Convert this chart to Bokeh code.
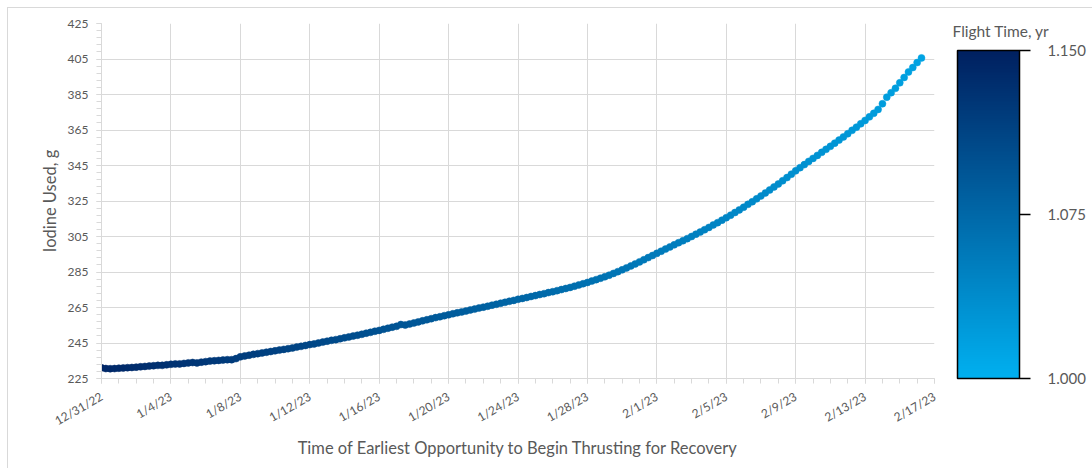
import pandas as pd
from bokeh.plotting import figure
from bokeh.models import (ColumnDataSource, LinearColorMapper, ColorBar, FixedTicker,
                          NumeralTickFormatter, Range1d)
from bokeh.embed import file_html
from bokeh.resources import INLINE

# Iodine used (g) per thrust-start opportunity, sampled every 6 hours from 12/31/22
iodine = [
    231.0, 230.6, 230.5, 230.6,  230.8, 230.9, 231.1, 231.2,
    231.4, 231.6, 231.8, 232.0,  232.2, 232.4, 232.4, 232.7,
    233.0, 233.2, 233.2, 233.5,  233.8, 234.0, 233.8, 234.2,
    234.5, 234.8, 235.0, 235.2,  235.4, 235.6, 235.6, 236.2,
    237.2, 237.7, 238.1, 238.6,  239.0, 239.4, 239.8, 240.2,
    240.6, 241.0, 241.4, 241.8,  242.2, 242.7, 243.1, 243.6,
    244.1, 244.5, 245.0, 245.5,  246.0, 246.5, 246.9, 247.4,
    247.9, 248.4, 248.9, 249.4,  249.9, 250.5, 251.0, 251.6,
    252.1, 252.7, 253.3, 253.9,  254.4, 255.4, 255.1, 255.7,
    256.3, 256.9, 257.5, 258.1,  258.7, 259.3, 259.8, 260.4,
    260.9, 261.5, 262.0, 262.5,  263.0, 263.6, 264.1, 264.7,
    265.2, 265.7, 266.3, 266.8,  267.4, 267.9, 268.5, 269.0,
    269.6, 270.1, 270.6, 271.2,  271.7, 272.3, 272.8, 273.4,
    273.9, 274.5, 275.1, 275.7,  276.3, 277.0, 277.7, 278.4,
    279.1, 279.9, 280.7, 281.5,  282.3, 283.2, 284.2, 285.2,
    286.2, 287.3, 288.4, 289.5,  290.7, 291.9, 293.1, 294.3,
    295.5, 296.7, 297.9, 299.1,  300.3, 301.5, 302.6, 303.8,
    305.0, 306.3, 307.5, 308.8,  310.1, 311.5, 312.8, 314.2,
    315.6, 317.0, 318.5, 320.0,  321.5, 323.1, 324.6, 326.2,
    327.8, 329.5, 331.2, 332.9,  334.6, 336.4, 338.2, 340.1,
    342.0, 343.8, 345.5, 347.3,  349.0, 350.7, 352.4, 354.1,
    355.8, 357.6, 359.3, 361.1,  362.9, 364.8, 366.6, 368.5,
    370.4, 372.4, 374.4, 376.6,  379.8, 383.5, 386.0, 388.5,
    391.6, 394.6, 397.7, 400.2,  403.0, 405.6,
]

# Flight time (yr) for each opportunity
flight_time = [
    1.142, 1.141, 1.141, 1.140,  1.139, 1.139, 1.138, 1.137,
    1.137, 1.136, 1.135, 1.135,  1.134, 1.133, 1.133, 1.132,
    1.131, 1.131, 1.130, 1.129,  1.129, 1.128, 1.127, 1.127,
    1.126, 1.125, 1.124, 1.124,  1.123, 1.122, 1.122, 1.121,
    1.120, 1.120, 1.119, 1.118,  1.118, 1.117, 1.116, 1.116,
    1.115, 1.114, 1.114, 1.113,  1.112, 1.112, 1.111, 1.110,
    1.110, 1.109, 1.108, 1.108,  1.107, 1.106, 1.106, 1.105,
    1.104, 1.103, 1.103, 1.102,  1.102, 1.101, 1.100, 1.100,
    1.099, 1.098, 1.097, 1.097,  1.096, 1.095, 1.095, 1.094,
    1.093, 1.093, 1.092, 1.091,  1.091, 1.090, 1.089, 1.089,
    1.088, 1.087, 1.087, 1.086,  1.085, 1.085, 1.084, 1.083,
    1.083, 1.082, 1.081, 1.081,  1.080, 1.079, 1.079, 1.078,
    1.077, 1.077, 1.076, 1.075,  1.075, 1.074, 1.073, 1.073,
    1.072, 1.071, 1.070, 1.070,  1.069, 1.068, 1.068, 1.067,
    1.066, 1.066, 1.065, 1.064,  1.064, 1.063, 1.062, 1.062,
    1.061, 1.060, 1.060, 1.059,  1.058, 1.058, 1.057, 1.056,
    1.056, 1.055, 1.054, 1.054,  1.053, 1.052, 1.052, 1.051,
    1.050, 1.050, 1.049, 1.048,  1.048, 1.047, 1.046, 1.046,
    1.045, 1.044, 1.043, 1.043,  1.042, 1.041, 1.041, 1.040,
    1.039, 1.039, 1.038, 1.037,  1.037, 1.036, 1.035, 1.035,
    1.034, 1.033, 1.033, 1.032,  1.031, 1.031, 1.030, 1.029,
    1.029, 1.028, 1.027, 1.027,  1.026, 1.025, 1.025, 1.024,
    1.023, 1.023, 1.022, 1.021,  1.021, 1.020, 1.019, 1.019,
    1.018, 1.017, 1.016, 1.016,  1.015, 1.014,
]

start_time = pd.Timestamp("2022-12-31")
times = pd.date_range(start_time, periods=len(iodine), freq="6h")

x_tick_dates = ["2022-12-31", "2023-01-04", "2023-01-08", "2023-01-12", "2023-01-16",
                "2023-01-20", "2023-01-24", "2023-01-28", "2023-02-01", "2023-02-05",
                "2023-02-09", "2023-02-13", "2023-02-17"]
x_tick_labels = ["12/31/22", "1/4/23", "1/8/23", "1/12/23", "1/16/23", "1/20/23", "1/24/23",
                 "1/28/23", "2/1/23", "2/5/23", "2/9/23", "2/13/23", "2/17/23"]
y_ticks = [225, 245, 265, 285, 305, 325, 345, 365, 385, 405, 425]
cbar_ticks = [1.000, 1.075, 1.150]


def ms(ts):
    return pd.Timestamp(ts).value / 1e6


x_major = [ms(d) for d in x_tick_dates]
x_minor = [ms(d) for d in pd.date_range(x_tick_dates[0], x_tick_dates[-1], freq="1D")]
y_minor = list(range(225, 426, 4))

GRAY_TEXT = "#595959"
GRID = "#d9d9d9"
FONT = "Lato"


def blend(c1, c2, t):
    return "#%02x%02x%02x" % tuple(round(a + (b - a) * t) for a, b in zip(c1, c2))


# light-to-dark blue gradient for the flight time scale
light, dark = (0, 176, 240), (0, 32, 96)
palette = [blend(light, dark, i / 255) for i in range(256)]

mapper = LinearColorMapper(palette=palette, low=1.0, high=1.15)

source = ColumnDataSource(dict(t=times, iodine=iodine, ft=flight_time))

p = figure(
    x_axis_type="datetime",
    frame_width=833, frame_height=355,
    x_range=Range1d(x_major[0], x_major[-1]),
    y_range=Range1d(225, 425),
    output_backend="svg", toolbar_location=None,
    min_border_left=93, min_border_top=15, min_border_bottom=90, min_border_right=158,
    background_fill_color="white", border_fill_color="white",
)
p.outline_line_color = None
p.styles = {"margin-left": "7px", "margin-top": "7px",
            "border-left": "1px solid #d9d9d9", "border-top": "1px solid #d9d9d9"}

p.scatter(x="t", y="iodine", source=source, size=7,
          fill_color={"field": "ft", "transform": mapper},
          line_color={"field": "ft", "transform": mapper}, line_width=0.5)

# x axis
xt = FixedTicker(ticks=x_major, minor_ticks=x_minor)
p.xaxis.ticker = xt
p.xaxis.major_label_overrides = {v: lab for v, lab in zip(x_major, x_tick_labels)}
p.xaxis.major_label_orientation = 0.52
p.xaxis.axis_label = "Time of Earliest Opportunity to Begin Thrusting for Recovery"

# y axis
p.yaxis.ticker = FixedTicker(ticks=y_ticks, minor_ticks=y_minor)
p.yaxis.axis_label = "Iodine Used, g"

for ax in (p.xaxis[0], p.yaxis[0]):
    ax.axis_line_color = GRID
    ax.major_tick_line_color = GRID
    ax.minor_tick_line_color = GRID
    ax.major_tick_in = 0
    ax.major_tick_out = 5
    ax.minor_tick_in = 0
    ax.minor_tick_out = 5
    ax.major_label_text_font = FONT
    ax.major_label_text_font_size = "12px"
    ax.major_label_text_color = GRAY_TEXT
    ax.axis_label_text_font = FONT
    ax.axis_label_text_font_size = "16.5px"
    ax.axis_label_text_font_style = "normal"
    ax.axis_label_text_color = GRAY_TEXT
p.yaxis.major_label_standoff = 8
p.xaxis.major_label_standoff = 12
p.xaxis.axis_label_standoff = 0

p.xgrid.ticker = xt
p.xgrid.grid_line_color = GRID
p.ygrid.grid_line_color = GRID

cb = ColorBar(
    color_mapper=mapper,
    ticker=FixedTicker(ticks=cbar_ticks),
    formatter=NumeralTickFormatter(format="0.000"),
    width=62, height=328,
    major_label_text_font=FONT, major_label_text_font_size="15px",
    major_label_text_color=GRAY_TEXT,
    major_tick_in=0, major_tick_out=11,
    major_tick_line_color="black", major_tick_line_width=1.5,
    bar_line_color="black", bar_line_width=1.5,
    label_standoff=17, padding=0, margin=0,
    location=(856, 0),
    background_fill_alpha=0, border_line_color=None,
)
p.add_layout(cb, "center")

# caption of the colour scale: a horizontal bar of zero visible extent carries the title
caption = ColorBar(
    color_mapper=mapper, orientation="horizontal",
    ticker=FixedTicker(ticks=[]), width=1, height=1, scale_alpha=0,
    title="Flight Time, yr",
    title_text_font=FONT, title_text_font_size="15.5px", title_text_color=GRAY_TEXT,
    title_text_font_style="normal", title_standoff=0,
    bar_line_color=None, major_tick_line_color=None, minor_tick_line_color=None,
    major_label_text_alpha=0,
    padding=0, margin=0, location=(851, 338),
    background_fill_alpha=0, border_line_color=None,
)
p.add_layout(caption, "center")

html = file_html(p, INLINE)
open("out.html", "w").write(html)
